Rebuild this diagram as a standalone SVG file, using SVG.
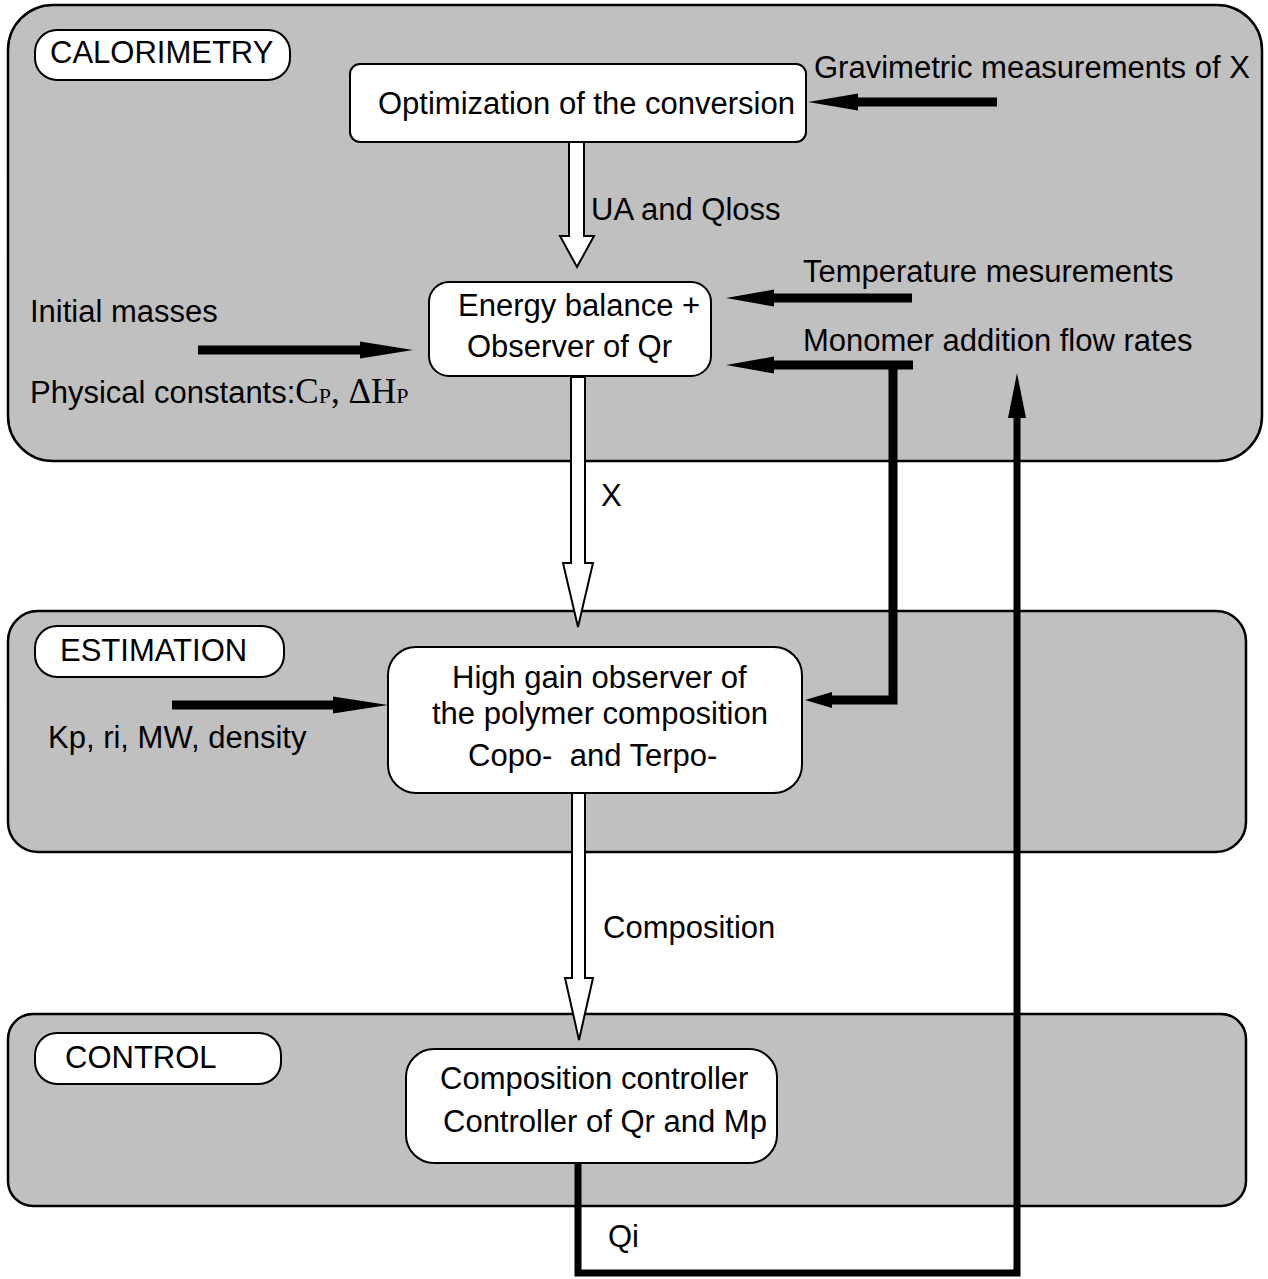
<svg xmlns="http://www.w3.org/2000/svg" width="1268" height="1279" viewBox="0 0 1268 1279">
<style>
text{font-family:"Liberation Sans",Arial,sans-serif;font-size:31px;fill:#000}
.serif{font-family:"Liberation Serif","Times New Roman",serif;font-size:35px}
.sub{font-family:"Liberation Serif","Times New Roman",serif;font-size:22px}
.panel{fill:#c0c0c0;stroke:#000;stroke-width:2.5}
.box{fill:#fff;stroke:#000;stroke-width:2}
.hollow{fill:#fff;stroke:#000;stroke-width:2;stroke-linejoin:miter}
.solid{fill:#000;stroke:none}
.wire{fill:none;stroke:#000;stroke-linejoin:miter}
</style>
<rect width="1268" height="1279" fill="#fff"/>
<g id="panels">
<rect id="calorimetry-panel" class="panel" x="8" y="5" width="1254" height="456" rx="45"/>
<rect id="estimation-panel" class="panel" x="8" y="611" width="1238" height="241" rx="30"/>
<rect id="control-panel" class="panel" x="8" y="1014" width="1238" height="192" rx="25"/>
</g>
<g id="connectors">
<path class="hollow" d="M569,142 V236 H560 L577,267 L594,236 H584 V142 Z"/>
<path class="hollow" d="M571,377 V563 H563 L578,627 L593,563 H585 V377 Z"/>
<path class="hollow" d="M572,793 V978 H565 L579,1040 L593,978 H585 V793 Z"/>
<path class="solid" d="M997,97.5 H858 V93.5 L808,102 L858,110.5 V106.5 H997 Z"/>
<path class="solid" d="M912,293.5 H774 V289.5 L726,298 L774,306.5 V302.5 H912 Z"/>
<path class="solid" d="M198,345.5 H360 V341.5 L413,350 L360,358.5 V354.5 H198 Z"/>
<path class="solid" d="M172,700.5 H333 V696.5 L388,705 L333,713.5 V709.5 H172 Z"/>
<path class="wire" stroke-width="9" d="M913,365 H770 M893,365 V700 H828"/>
<path class="solid" d="M774,360 V356.5 L726,365 L774,373.5 V370 Z"/>
<path class="solid" d="M832,695.5 V692 L805,700 L832,708 V704.5 Z"/>
<path class="wire" stroke-width="7" d="M578,1163 V1273 H1017 V415"/>
<path class="solid" d="M1008,418 L1017,373 L1026,418 Z"/>
</g>
<g id="calorimetry-label">
<rect class="box" x="35" y="30" width="255" height="50" rx="22"/>
<text x="50" y="63">CALORIMETRY</text>
</g>
<g id="optimization">
<rect class="box" x="350" y="64" width="456" height="78" rx="10"/>
<text x="378" y="114">Optimization of the conversion</text>
</g>
<g id="energy-balance">
<rect class="box" x="429" y="282" width="282" height="94" rx="20"/>
<text x="458" y="316">Energy balance +</text>
<text x="467" y="357">Observer of Qr</text>
</g>
<g id="calorimetry-texts">
<text x="814" y="78">Gravimetric measurements of X</text>
<text x="591" y="220">UA and Qloss</text>
<text x="803" y="282">Temperature mesurements</text>
<text x="803" y="351">Monomer addition flow rates</text>
<text x="30" y="322">Initial masses</text>
<text x="30" y="403">Physical constants:<tspan class="serif">C</tspan><tspan class="sub">P</tspan><tspan class="serif">, ΔH</tspan><tspan class="sub">P</tspan></text>
</g>
<g id="x-label">
<text x="601" y="506">X</text>
</g>
<g id="estimation-label">
<rect class="box" x="35" y="626" width="249" height="51" rx="22"/>
<text x="60" y="661">ESTIMATION</text>
</g>
<g id="high-gain-observer">
<rect class="box" x="388" y="647" width="414" height="146" rx="28"/>
<text x="452" y="688">High gain observer of</text>
<text x="432" y="724">the polymer composition</text>
<text x="468" y="766" xml:space="preserve">Copo-  and Terpo-</text>
</g>
<g id="estimation-texts">
<text x="48" y="748">Kp, ri, MW, density</text>
<text x="603" y="938">Composition</text>
</g>
<g id="control-label">
<rect class="box" x="35" y="1033" width="246" height="51" rx="22"/>
<text x="65" y="1068">CONTROL</text>
</g>
<g id="composition-controller">
<rect class="box" x="406" y="1049" width="371" height="114" rx="28"/>
<text x="440" y="1089">Composition controller</text>
<text x="443" y="1132">Controller of Qr and Mp</text>
</g>
<g id="qi-label">
<text x="608" y="1247">Qi</text>
</g>
</svg>
